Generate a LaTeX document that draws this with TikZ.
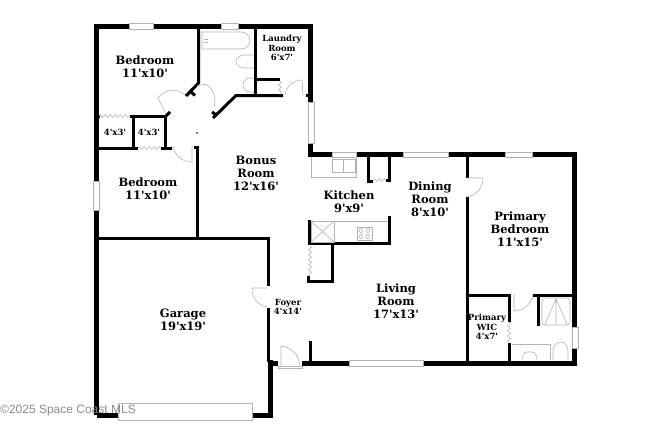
\documentclass[tikz,border=0pt]{standalone}
\usepackage{fontspec}
\newfontfamily\roomfont{DejaVu Serif}
\newfontfamily\creditfont{Liberation Sans}
\usetikzlibrary{decorations.pathmorphing}
\tikzset{
  wall/.style={line width=5pt,black},
  partition/.style={line width=3pt,black},
  fixture/.style={line width=0.6pt,black!30},
  window/.style={line width=0.6pt,draw=black!30,fill=white},
  bifold/.style={fixture,decorate,decoration={zigzag,amplitude=1.4pt,segment length=5pt}},
  room/.style={align=center,inner sep=0pt,font=\roomfont\bfseries\fontsize{11.5}{13}\selectfont},
  smallroom/.style={align=center,inner sep=0pt,font=\roomfont\bfseries\fontsize{8.5}{9.5}\selectfont}
}
\begin{document}
\begin{tikzpicture}[x=1pt,y=-1pt]
  \useasboundingbox (0,0) rectangle (650,431);
  % outer walls
  \draw[wall] (96.5,415) -- (96.5,26.5) -- (310.5,26.5) -- (310.5,102);
  \draw[wall] (310.5,144) -- (310.5,154.5) -- (574.5,154.5) -- (574.5,363) -- (302,363);
  \draw[wall] (278,363) -- (270.5,363);
  \draw[wall] (96.5,415) -- (270.5,415) -- (270.5,360);
  % inner walls
  \draw[partition] (98,238.5) -- (268.5,238.5) -- (268.5,286);
  \draw[partition] (268.5,308) -- (268.5,362);
  \draw[partition] (198.5,28) -- (198.5,83) -- (186,96);
  \draw[partition] (190,91) -- (195,95.5);
  \draw[partition] (213,118) -- (236,95.5) -- (283,95.5);
  \draw[partition] (212,112) -- (217,115.5);
  \draw[partition] (255.5,28) -- (255.5,95);
  \draw[partition] (255.5,79.5) -- (280,79.5);
  \draw[partition] (306,95.5) -- (310,95.5);
  \draw[partition] (98,116) -- (99.5,116);
  \draw[partition] (130,116.5) -- (165.5,116.5) -- (165.5,148);
  \draw[partition] (165.5,116.5) -- (170,112);
  \draw[partition] (133.5,116.5) -- (133.5,148);
  \draw[partition] (98,148) -- (138,148);
  \draw[partition] (161,148) -- (172,148);
  \draw[partition] (194,147) -- (197.5,147) -- (197.5,238);
  \draw[partition] (368.5,155) -- (368.5,181) -- (373,181);
  \draw[partition] (386,180.5) -- (389.5,180.5) -- (389.5,155);
  \draw[partition] (467.5,155) -- (467.5,178);
  \draw[partition] (467.5,197) -- (467.5,361);
  \draw[partition] (467,295) -- (509,295) -- (509,322);
  \draw[partition] (509,343) -- (509,361);
  \draw[partition] (533,295) -- (573,295);
  \draw[partition] (538,295) -- (538,326);
  \draw[partition] (309.5,220) -- (309.5,245);
  \draw[partition] (308,243.5) -- (389.5,243.5) -- (389.5,216);
  \draw[partition] (332.5,245) -- (332.5,281) -- (308.5,281) -- (308.5,276);
  \draw[partition] (310,341) -- (310,361);
  \fill (197,133) circle (0.8pt);
  % windows
  \foreach \xa/\ya/\xb/\yb in {129/23.5/153/29.5, 221/23.5/238/29.5, 308/102/314/143,
      332/152/356/157, 403/152/448/157, 505/152/532/157, 572/327/578/348,
      349/360/423/366, 278/366/302/368, 118/403/252/420, 93/181/99/210}
    \draw[window] (\xa,\ya) rectangle (\xb,\yb);
  % doors
  \draw[fixture] (166,114) -- (158,98) to[bend left=50] (185,95);
  \draw[fixture] (197,86) -- (206,84) to[bend left=35] (214,107);
  \draw[fixture] (192,146) -- (192,162) to[bend left=40] (173,146);
  \draw[fixture] (285,95) to[bend left=40] (302,80) -- (303,95);
  \draw[fixture] (467,178) -- (483,178) to[bend left=40] (467,197);
  \draw[fixture] (514,294) -- (514,311) to[bend right=40] (533,294);
  \draw[fixture] (267,288) -- (252,288) to[bend right=40] (267,307);
  \draw[fixture] (281,366) -- (281,346) to[bend left=40] (300,366);
  % bifolds
  \draw[bifold] (99,116) -- (130,116);
  \draw[bifold] (138,148) -- (161,148);
  \draw[bifold] (280,81) -- (280,95);
  \draw[bifold] (373,180) -- (386,180);
  \draw[bifold] (509,322) -- (509,343);
  \draw[bifold] (310,246) -- (310,276);
  % bath fixtures
  \draw[fixture] (202,32) -- (202,49) -- (241,49) to[out=0,in=-90] (250,40.5) to[out=90,in=0] (241,32) -- cycle;
  \draw[fixture] (204,39) -- (208,39) (204,42) -- (208,42);
  \draw[fixture] (254,55) -- (245,55) to[out=180,in=90] (236,61.5) to[out=-90,in=180] (245,68) -- (254,68);
  \draw[fixture] (254,78) -- (250,78) to[out=180,in=90] (243,85) to[out=-90,in=180] (250,92) -- (254,92);
  \draw[fixture] (512,344) -- (550,344) -- (550,360);
  \draw[fixture] (522,360) to[out=90,in=180] (527,352) -- (532,352) to[out=0,in=90] (537,360);
  \draw[fixture] (553,360) -- (553,351) to[out=90,in=180] (560.5,342) to[out=0,in=90] (568,351) -- (568,360);
  \draw[fixture,rounded corners=3pt] (542,298) rectangle (570,325);
  \draw[fixture] (545,324) -- (556,299) -- (567,324) (556,299) -- (556,324);
  % kitchen fixtures
  \draw[fixture] (311,157) -- (311,177) -- (356,177) -- (356,157);
  \draw[fixture] (332,159) rectangle (355,172);
  \draw[fixture] (343.5,159) -- (343.5,172);
  \draw[fixture] (311,221) rectangle (334,242);
  \draw[fixture] (311,221) -- (334,242) (311,242) -- (334,221);
  \draw[fixture] (334,221) -- (388,221);
  \draw[fixture] (357,227) rectangle (372,240);
  \foreach \bx in {361,368}
    \foreach \by in {230.5,236.5}
      \draw[fixture] (\bx,\by) circle (2pt);
  % labels
  \node[room] (bedroomtop) at (145,66.5) {Bedroom\\11'x10'};
  \node[room] (bedroomlow) at (148,189) {Bedroom\\11'x10'};
  \node[room] (bonus) at (256,173.5) {Bonus\\Room\\12'x16'};
  \node[room] (kitchen) at (349,202) {Kitchen\\9'x9'};
  \node[room] (dining) at (430,199.5) {Dining\\Room\\8'x10'};
  \node[room] (primary) at (520,229) {Primary\\Bedroom\\11'x15'};
  \node[room] (garage) at (183,320) {Garage\\19'x19'};
  \node[room] (living) at (396,301) {Living\\Room\\17'x13'};
  \node[smallroom] (laundry) at (282,48) {Laundry\\Room\\6'x7'};
  \node[smallroom] (closeta) at (115,132) {4'x3'};
  \node[smallroom] (closetb) at (149,132) {4'x3'};
  \node[smallroom] (foyer) at (288,307) {Foyer\\4'x14'};
  \node[smallroom] (wic) at (487,327) {Primary\\WIC\\4'x7'};
  \node[anchor=west,inner sep=0pt,text=black!45,font=\creditfont\fontsize{12}{12}\selectfont] (credit) at (0,411)
    {©2025 Space Coast MLS};
\end{tikzpicture}
\end{document}
